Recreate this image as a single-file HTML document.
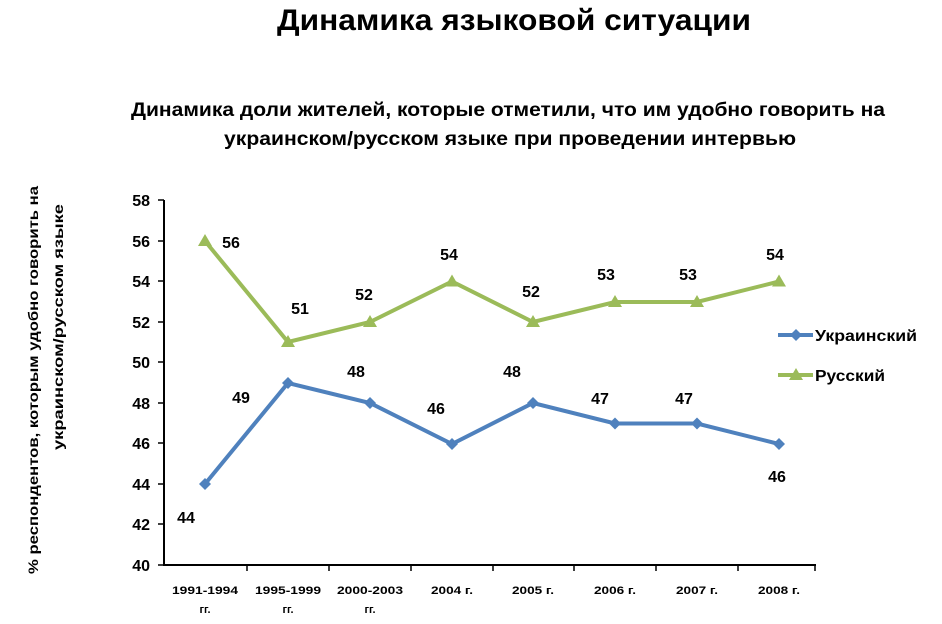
<!DOCTYPE html>
<html><head><meta charset="utf-8"><style>
html,body{margin:0;padding:0;background:#fff;}
svg{display:block;font-family:"Liberation Sans",sans-serif;font-weight:bold;}
</style></head><body>
<svg width="942" height="624" viewBox="0 0 942 624" xmlns="http://www.w3.org/2000/svg">
<text x="514" y="30" font-size="30" text-anchor="middle" textLength="474" lengthAdjust="spacingAndGlyphs">Динамика языковой ситуации</text>
<text x="508" y="116" font-size="19" text-anchor="middle" textLength="754" lengthAdjust="spacingAndGlyphs">Динамика доли жителей, которые отметили, что им удобно говорить на</text>
<text x="510" y="145" font-size="19" text-anchor="middle" textLength="572" lengthAdjust="spacingAndGlyphs">украинском/русском языке при проведении интервью</text>
<g font-size="14" text-anchor="middle">
<text transform="translate(38,380) rotate(-90)" textLength="388" lengthAdjust="spacingAndGlyphs">% респондентов, которым удобно говорить на</text>
<text transform="translate(63,327) rotate(-90)" textLength="246" lengthAdjust="spacingAndGlyphs">украинском/русском языке</text>
</g>
<g stroke="#000" stroke-width="2">
<line x1="164" y1="200" x2="164" y2="566"/>
<line x1="163" y1="565" x2="816" y2="565"/>
</g>
<g stroke="#000" stroke-width="1.5">
<line x1="158" y1="200" x2="164" y2="200"/><line x1="158" y1="241" x2="164" y2="241"/><line x1="158" y1="281" x2="164" y2="281"/><line x1="158" y1="322" x2="164" y2="322"/><line x1="158" y1="362" x2="164" y2="362"/><line x1="158" y1="403" x2="164" y2="403"/><line x1="158" y1="443" x2="164" y2="443"/><line x1="158" y1="484" x2="164" y2="484"/><line x1="158" y1="524" x2="164" y2="524"/><line x1="158" y1="565" x2="164" y2="565"/>
<line x1="247" y1="565" x2="247" y2="571"/><line x1="329" y1="565" x2="329" y2="571"/><line x1="411" y1="565" x2="411" y2="571"/><line x1="493" y1="565" x2="493" y2="571"/><line x1="574" y1="565" x2="574" y2="571"/><line x1="656" y1="565" x2="656" y2="571"/><line x1="738" y1="565" x2="738" y2="571"/><line x1="815" y1="565" x2="815" y2="571"/>
</g>
<g font-size="16" text-anchor="end">
<text x="150" y="206">58</text><text x="150" y="247">56</text><text x="150" y="287">54</text><text x="150" y="328">52</text><text x="150" y="368">50</text><text x="150" y="409">48</text><text x="150" y="449">46</text><text x="150" y="490">44</text><text x="150" y="530">42</text><text x="150" y="571">40</text>
</g>
<g font-size="11" text-anchor="middle">
<text x="205" y="594" textLength="66" lengthAdjust="spacingAndGlyphs">1991-1994</text><text x="205" y="613">гг.</text>
<text x="288" y="594" textLength="66" lengthAdjust="spacingAndGlyphs">1995-1999</text><text x="288" y="613">гг.</text>
<text x="370" y="594" textLength="66" lengthAdjust="spacingAndGlyphs">2000-2003</text><text x="370" y="613">гг.</text>
<text x="452" y="594" textLength="42" lengthAdjust="spacingAndGlyphs">2004 г.</text><text x="533" y="594" textLength="42" lengthAdjust="spacingAndGlyphs">2005 г.</text><text x="615" y="594" textLength="42" lengthAdjust="spacingAndGlyphs">2006 г.</text><text x="697" y="594" textLength="42" lengthAdjust="spacingAndGlyphs">2007 г.</text><text x="779" y="594" textLength="42" lengthAdjust="spacingAndGlyphs">2008 г.</text>
</g>
<polyline fill="none" stroke="#4f81bd" stroke-width="4" points="205,484 288,383 370,403 452,444 533,403 615,423.5 697,423.5 779,444"/>
<polyline fill="none" stroke="#9bbb59" stroke-width="4" points="205,241 288,342 370,322 452,281.5 533,322 615,302 697,302 779,281.5"/>
<g fill="#4f81bd">
<path d="M205,478l6,6-6,6-6-6z"/><path d="M288,377l6,6-6,6-6-6z"/><path d="M370,397l6,6-6,6-6-6z"/><path d="M452,438l6,6-6,6-6-6z"/><path d="M533,397l6,6-6,6-6-6z"/><path d="M615,417.5l6,6-6,6-6-6z"/><path d="M697,417.5l6,6-6,6-6-6z"/><path d="M779,438l6,6-6,6-6-6z"/>
</g>
<g fill="#9bbb59">
<path d="M205,234l7,12h-14z"/><path d="M288,335l7,12h-14z"/><path d="M370,315l7,12h-14z"/><path d="M452,274.5l7,12h-14z"/><path d="M533,315l7,12h-14z"/><path d="M615,295l7,12h-14z"/><path d="M697,295l7,12h-14z"/><path d="M779,274.5l7,12h-14z"/>
</g>
<g font-size="16" text-anchor="middle">
<text x="231" y="248">56</text><text x="300" y="314">51</text><text x="364" y="300">52</text><text x="449" y="260">54</text><text x="531" y="297">52</text><text x="606" y="280">53</text><text x="688" y="280">53</text><text x="775" y="260">54</text>
<text x="186" y="523">44</text><text x="241" y="403">49</text><text x="356" y="377">48</text><text x="436" y="414">46</text><text x="512" y="377">48</text><text x="600" y="404">47</text><text x="684" y="404">47</text><text x="777" y="482">46</text>
</g>
<line x1="778" y1="335" x2="813" y2="335" stroke="#4f81bd" stroke-width="4"/>
<path d="M796,329l6,6-6,6-6-6z" fill="#4f81bd"/>
<line x1="778" y1="375" x2="813" y2="375" stroke="#9bbb59" stroke-width="4"/>
<path d="M796,368l7,12h-14z" fill="#9bbb59"/>
<text x="815" y="341" font-size="16" textLength="102" lengthAdjust="spacingAndGlyphs">Украинский</text>
<text x="815" y="381" font-size="16" textLength="70" lengthAdjust="spacingAndGlyphs">Русский</text>
</svg>
</body></html>
